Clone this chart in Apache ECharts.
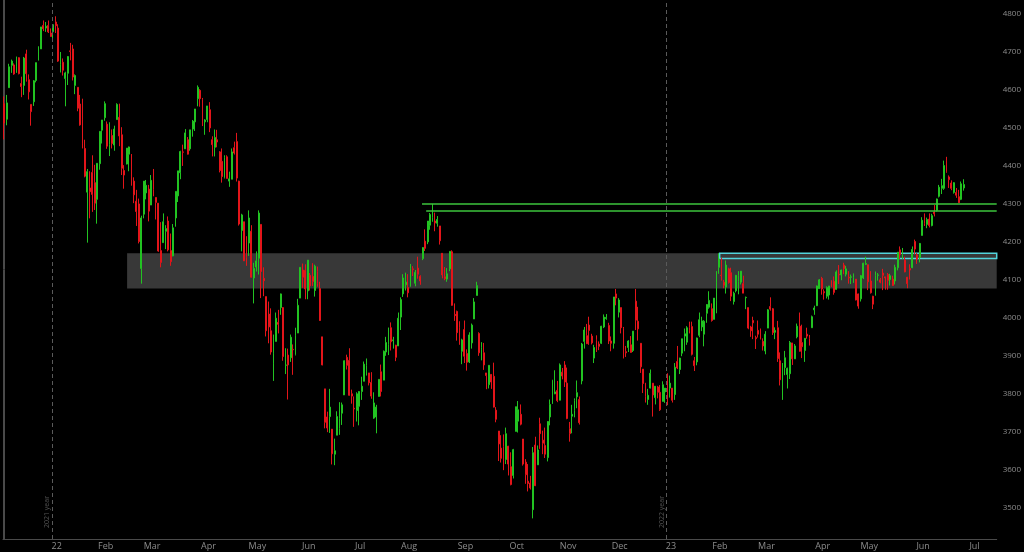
<!DOCTYPE html>
<html><head><meta charset="utf-8">
<script src="https://cdn.jsdelivr.net/npm/echarts@6/dist/echarts.min.js"></script>
<style>html,body{margin:0;padding:0;background:#000;}#c{width:1024px;height:552px;}</style>
</head><body><div id="c"></div>
<script>
// ---- data ----
const firstDate = '2021-12-03';
const totalSlots = 406;
const holidays = ['2021-12-24','2022-01-17','2022-02-21','2022-04-15','2022-05-30','2022-06-20','2022-07-04','2022-09-05','2022-11-24','2022-12-26','2023-01-02','2023-01-16','2023-02-20','2023-04-07','2023-05-29','2023-06-19','2023-07-04'];
const monthNames = ['Jan','Feb','Mar','Apr','May','Jun','Jul','Aug','Sep','Oct','Nov','Dec'];
const yTicks = [3500,3600,3700,3800,3900,4000,4100,4200,4300,4400,4500,4600,4700,4800];

const opens = [
4564,4523,4606,4665,4666,4663,4685,4617,4612,4695,4627,4562,4569,4625,4678,4708,4770,4763,4770,4750,
4753,4779,4763,4668,4673,4630,4644,4703,4708,4612,4607,4563,4523,4446,4331,4342,4383,4356,4312,4406,
4494,4527,4510,4457,4480,4455,4522,4528,4482,4388,4405,4431,4431,4360,4307,4300,4130,4273,4329,
4339,4297,4376,4317,4302,4177,4198,4228,4255,4177,4163,4263,4321,4382,4437,4445,4469,4445,4497,4516,4577,4599,4574,
4516,4522,4548,4469,4449,4469,4437,4412,4370,4424,4360,4365,4448,4464,4360,4230,4253,4162,4197,4228,
4105,4134,4157,4246,4104,4056,4010,3966,3879,3938,3988,4027,4027,3875,3902,3895,3917,3904,3960,4052,4126,
4125,4071,4112,4109,4072,4122,4077,3950,3813,3739,3740,3707,3641,3691,3709,3749,3797,3896,3888,3800,3762,
3756,3767,3806,3833,3863,3855,3830,3736,3739,3793,3858,3836,3910,3930,3974,3940,3928,3926,4002,4063,
4087,4080,4083,4129,4091,4131,4109,4156,4202,4200,4244,4265,4255,4249,4242,4170,4108,4102,4129,4174,4009,4017,3975,
3912,3969,3906,3884,3934,3997,4059,3959,3916,3908,3855,3824,3851,3846,3757,3702,3657,3661,3627,3662,3608,
3585,3701,3728,3746,3681,3620,3570,3565,3495,3665,3613,3721,3678,3664,3632,3739,3774,3800,3809,3783,3857,
3876,3828,3708,3741,3756,3792,3785,3834,3938,3953,3981,3952,3894,3942,3931,3933,3976,3998,3980,3939,3933,
4063,4015,4027,3971,3911,3922,3929,3914,4044,3991,3933,3865,3828,3785,3815,3828,3790,3818,3804,3780,3805,
3828,3815,3815,3798,3885,3864,3907,3952,3936,3974,3977,3887,3884,3954,3976,3957,4012,4028,4024,3996,
4045,4133,4112,4094,4081,4129,4119,4043,4071,4096,4094,4090,4053,4027,3976,3993,3948,3967,3952,
3938,3913,3973,4030,4024,3962,3974,3887,3810,3869,3851,3853,3934,3892,3950,3978,3935,3914,3957,3949,3974,4021,4032,
4077,4104,4069,4057,4060,4086,4096,4075,4115,4113,4139,4115,4107,4107,4107,4102,4063,4050,4105,
4141,4140,4097,4057,4059,4112,4100,4118,4108,4114,4101,4102,4097,4132,4179,4166,4152,4107,4130,4132,4201,4166,
4159,4217,4257,4246,4260,4243,4279,4283,4320,4341,4341,4415,4371,4355,4330,4330,4319,4312,4342
];
const closes = [
4513,4566,4661,4676,4642,4687,4643,4609,4684,4643,4595,4543,4624,4672,4700,4766,4761,4768,4753,4741,
4772,4769,4676,4671,4652,4645,4688,4701,4634,4638,4552,4508,4458,4373,4385,4332,4325,4302,4407,4491,
4521,4564,4452,4476,4459,4497,4562,4479,4394,4376,4447,4450,4355,4324,4280,4201,4263,4360,4349,
4281,4362,4338,4304,4176,4146,4253,4235,4179,4148,4237,4333,4387,4438,4436,4487,4431,4495,4518,4550,4607,4577,4505,
4521,4558,4500,4456,4475,4463,4388,4372,4422,4367,4366,4437,4434,4368,4247,4271,4150,4159,4263,4107,
4130,4150,4276,4122,4098,3966,3976,3910,3905,3999,3983,4063,3898,3876,3876,3949,3916,3954,4033,4133,4107,
4076,4152,4084,4096,4136,4091,3993,3876,3725,3710,3765,3642,3650,3740,3735,3771,3887,3875,3796,3794,3760,
3800,3806,3820,3878,3874,3829,3794,3776,3765,3838,3806,3912,3935,3974,3937,3942,3896,3999,4048,4105,
4094,4066,4130,4127,4120,4115,4097,4185,4183,4255,4272,4280,4250,4259,4203,4113,4103,4116,4175,4033,4006,3961,3930,
3942,3899,3883,3955,3981,4042,4085,3908,3921,3876,3848,3875,3831,3765,3733,3668,3630,3623,3695,3615,3561,
3653,3766,3758,3720,3615,3587,3564,3552,3645,3558,3652,3695,3670,3641,3727,3772,3834,3805,3782,3876,3847,
3831,3735,3695,3746,3782,3803,3724,3931,3968,3932,3967,3934,3922,3940,3925,3978,4002,4001,3939,3933,4055,
4052,4047,3974,3916,3908,3939,3909,3965,3994,3971,3871,3827,3793,3796,3854,3797,3820,3804,3758,3824,3815,
3800,3828,3783,3870,3868,3894,3945,3958,3974,3966,3904,3874,3947,3995,3992,3991,4035,4046,3993,4052,
4094,4155,4111,4086,4139,4093,4057,4065,4112,4111,4123,4065,4054,3973,3966,3987,3945,3957,3945,
3926,3957,4021,4023,3961,3967,3893,3837,3831,3895,3867,3935,3892,3926,3978,3912,3924,3946,3952,3946,4003,4026,4084,
4100,4076,4066,4080,4084,4083,4067,4121,4113,4126,4130,4129,4105,4108,4113,4047,4031,4111,4144,
4143,4095,4066,4036,4111,4113,4094,4112,4105,4099,4111,4085,4133,4173,4167,4167,4121,4090,4126,4180,4181,4155,
4196,4257,4249,4259,4243,4269,4274,4313,4344,4348,4401,4385,4364,4341,4356,4323,4303,4353,4351
];
const lows = [
4470,4507,4606,4645,4640,4645,4641,4581,4587,4622,4575,4506,4558,4620,4678,4708,4755,4753,4750,4740,
4733,4750,4674,4646,4638,4557,4613,4678,4625,4589,4544,4506,4446,4370,4198,4262,4279,4284,4248,4390,
4459,4519,4445,4426,4446,4440,4522,4452,4376,4340,4404,4386,4348,4302,4242,4196,4090,4262,4312,
4254,4297,4320,4259,4174,4133,4198,4181,4175,4137,4162,4240,4305,4365,4400,4445,4430,4440,4477,4492,4557,4556,4505,
4482,4515,4489,4425,4425,4449,4383,4356,4367,4367,4345,4365,4430,4359,4243,4175,4150,4137,4163,4106,
4038,4122,4114,4052,4057,3951,3933,3903,3834,3938,3959,4008,3887,3852,3785,3884,3850,3901,3960,4052,4079,
4049,4049,4072,4084,4056,4082,3992,3875,3709,3699,3697,3614,3612,3691,3692,3718,3797,3864,3795,3774,3713,
3727,3717,3784,3833,3848,3822,3787,3734,3696,3793,3793,3836,3900,3902,3914,3919,3886,3926,3968,4055,
4072,4054,4082,4110,4083,4103,4087,4152,4176,4194,4232,4253,4228,4240,4193,4104,4099,4095,4123,4032,3992,3940,3929,
3878,3881,3861,3881,3919,3997,4059,3900,3888,3863,3812,3814,3813,3764,3725,3623,3619,3599,3615,3585,3559,
3577,3701,3698,3717,3611,3563,3543,3548,3472,3557,3613,3655,3641,3631,3622,3717,3774,3799,3778,3783,3838,
3818,3733,3674,3696,3738,3762,3719,3825,3919,3931,3929,3930,3881,3910,3915,3931,3973,3995,3931,3912,3919,
4033,4001,3959,3893,3897,3910,3908,3910,3968,3940,3855,3802,3777,3771,3814,3740,3772,3788,3755,3780,3776,
3770,3790,3777,3784,3865,3852,3899,3912,3929,3959,3901,3860,3875,3949,3965,3925,3987,4024,3990,3996,
4012,4116,4098,4078,4064,4090,4044,4035,4067,4062,4088,4065,4023,3970,3950,3944,3918,3948,3943,
3914,3904,3973,4019,3955,3944,3884,3822,3784,3849,3814,3839,3876,3892,3946,3911,3894,3884,3945,3927,3974,4008,4031,
4076,4061,4048,4051,4048,4081,4061,4074,4089,4099,4115,4109,4090,4089,4092,4046,4024,4043,4102,
4139,4073,4064,4023,4059,4098,4091,4073,4074,4074,4085,4084,4088,4125,4155,4155,4120,4078,4101,4131,4167,4142,
4146,4217,4242,4236,4238,4241,4267,4280,4317,4326,4337,4382,4342,4336,4327,4316,4303,4310,4335
];
const highs = [
4583,4587,4669,4680,4670,4688,4686,4635,4687,4706,4641,4562,4626,4672,4715,4766,4783,4779,4783,4762,
4772,4794,4773,4700,4683,4648,4689,4724,4719,4641,4607,4587,4577,4469,4392,4386,4428,4403,4407,4491,
4521,4570,4517,4515,4496,4506,4565,4564,4502,4402,4447,4451,4431,4370,4337,4314,4269,4360,4363,
4350,4376,4392,4317,4302,4252,4275,4244,4267,4222,4247,4333,4387,4440,4456,4497,4476,4495,4521,4550,4612,4602,4579,
4523,4558,4568,4478,4496,4495,4439,4446,4428,4428,4385,4446,4464,4487,4361,4274,4253,4215,4283,4244,
4145,4175,4283,4246,4133,4056,4043,4025,3956,4014,4021,4064,4028,3920,3919,3956,3930,3974,4050,4133,4143,
4141,4152,4118,4144,4140,4135,4095,3950,3813,3753,3813,3707,3682,3754,3778,3777,3888,3903,3920,3811,3793,
3804,3807,3845,3885,3893,3855,3857,3804,3771,3838,3877,3914,3950,3974,3988,3950,3929,4014,4054,4115,
4119,4115,4142,4136,4126,4161,4112,4186,4233,4255,4276,4300,4277,4268,4242,4170,4134,4131,4175,4178,4038,4019,3991,
3945,3993,3917,3962,3985,4052,4095,3962,3936,3934,3855,3875,3852,3882,3765,3702,3691,3693,3711,3663,3646,
3655,3766,3781,3772,3681,3628,3615,3584,3660,3687,3664,3737,3703,3711,3728,3785,3837,3862,3834,3880,3868,
3886,3869,3726,3771,3788,3835,3793,3934,3976,3984,4003,3958,3929,3954,3938,3979,4009,4010,3987,3951,4055,
4076,4052,4027,3976,3926,3941,3952,3965,4076,4029,3933,3865,3829,3813,3864,3828,3820,3821,3823,3833,3815,
3854,3848,3815,3881,3926,3895,3945,3972,3978,3990,3990,3897,3948,4014,4003,3994,4036,4070,4038,4052,
4123,4170,4158,4100,4151,4132,4132,4069,4113,4123,4123,4111,4056,4027,3979,4003,3953,3993,3972,
3946,3965,4023,4054,4026,3975,3992,3909,3881,3913,3869,3939,3934,3931,3985,4014,3982,3947,3974,3955,4006,4032,4085,
4102,4108,4075,4083,4084,4099,4109,4125,4139,4127,4145,4137,4123,4114,4117,4102,4064,4113,4145,
4161,4140,4123,4058,4122,4118,4105,4129,4108,4118,4116,4111,4140,4173,4188,4184,4161,4108,4141,4188,4206,4171,
4197,4265,4275,4264,4275,4274,4297,4314,4350,4366,4414,4424,4375,4362,4357,4342,4337,4359,4365
];

// support / resistance drawings (category index positions, price levels)
const zoneLow = 4077, zoneHigh = 4170, zoneStart = 50.2;
const greenLevels = [[170.7, 4301], [172.4, 4281]];
const cyanBox = {start: 292.3, low: 4156, high: 4170};
const yearMarks = [[19.5, '2021 year'], [270.5, '2022 year']];

// ---- build ----
if (!(opens.length === closes.length && closes.length === lows.length && lows.length === highs.length)) {
  throw new Error('length mismatch ' + [opens.length, closes.length, lows.length, highs.length].join(','));
}
const cats = [];
{
  const d = new Date(firstDate + 'T00:00:00Z');
  while (cats.length < totalSlots) {
    const s = d.toISOString().slice(0, 10);
    const wd = d.getUTCDay();
    if (wd !== 0 && wd !== 6 && holidays.indexOf(s) < 0) cats.push(s);
    d.setUTCDate(d.getUTCDate() + 1);
  }
}
const candleData = opens.map((o, i) => [o, closes[i], lows[i], highs[i]]);
const yMin = 3417.7, yMax = 4836.9;
const xEnd = totalSlots - 0.5;
const GREEN = '#22c322', RED = '#e3151a';

const chart = echarts.init(document.getElementById('c'));
chart.setOption({
  backgroundColor: '#000',
  animation: false,
  textStyle: {fontFamily: 'Open Sans'},
  grid: {left: 3, right: 26, top: 0, bottom: 13},
  xAxis: [{
    type: 'category', data: cats, boundaryGap: true,
    axisLine: {show: true, lineStyle: {color: '#4a4a4a', width: 1}},
    axisTick: {show: false}, splitLine: {show: false},
    axisLabel: {
      interval: (i, v) => i > 0 && v.slice(0, 7) !== cats[i - 1].slice(0, 7),
      formatter: v => { const m = +v.slice(5, 7); return m === 1 ? v.slice(2, 4) : monthNames[m - 1]; },
      color: '#8c8c8c', fontSize: 9, margin: 3, padding: [0, 0, 0, 7]
    }
  }, {
    type: 'value', min: -0.5, max: xEnd, show: false
  }],
  yAxis: [{
    type: 'value', position: 'right', min: yMin, max: yMax, scale: true,
    axisLine: {show: true, lineStyle: {color: '#4a4a4a', width: 1}},
    axisTick: {show: false}, splitLine: {show: false},
    axisLabel: {customValues: yTicks, formatter: v => String(Math.round(v)), color: '#8c8c8c', fontSize: 8, margin: 6}
  }, {
    type: 'value', position: 'left', min: yMin, max: yMax, scale: true,
    axisLine: {show: true, lineStyle: {color: '#4a4a4a', width: 1}},
    axisTick: {show: false}, splitLine: {show: false}, axisLabel: {show: false}
  }],
  series: [{
    type: 'line', xAxisIndex: 1, yAxisIndex: 0, data: [], z: 1, silent: true,
    markArea: {silent: true, itemStyle: {color: '#383838'},
      data: [[{xAxis: zoneStart, yAxis: zoneHigh}, {xAxis: xEnd, yAxis: zoneLow}]]},
    markLine: {silent: true, symbol: 'none',
      lineStyle: {color: '#5a5a5a', type: [4, 3], width: 1},
      label: {show: true, position: 'insideStartTop', color: '#555', fontSize: 7, distance: [11, 1]},
      data: yearMarks.map(m => ({xAxis: m[0], label: {formatter: m[1]}}))}
  }, {
    type: 'candlestick', xAxisIndex: 0, yAxisIndex: 0, data: candleData, z: 2,
    barWidth: 1.4, silent: true,
    itemStyle: {color: GREEN, color0: RED, borderColor: GREEN, borderColor0: RED, borderWidth: 1}
  }, {
    type: 'line', xAxisIndex: 1, yAxisIndex: 0, data: [], z: 4, silent: true,
    markLine: {silent: true, symbol: 'none', label: {show: false},
      lineStyle: {color: '#3cc43c', width: 1.5, type: 'solid'},
      data: greenLevels.map(g => [{coord: [g[0], g[1]]}, {coord: [xEnd, g[1]]}])},
    markArea: {silent: true,
      itemStyle: {color: 'rgba(0,0,0,0)', borderColor: '#52d4dc', borderWidth: 1.5},
      data: [[{xAxis: cyanBox.start, yAxis: cyanBox.high}, {xAxis: xEnd, yAxis: cyanBox.low}]]}
  }]
});
</script>
</body></html>
